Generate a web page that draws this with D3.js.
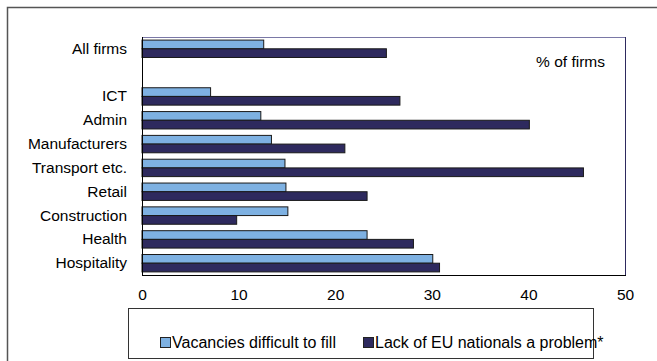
<!DOCTYPE html>
<html><head><meta charset="utf-8">
<script src="https://cdn.jsdelivr.net/npm/d3@7/dist/d3.min.js"></script>
<style>
body{margin:0;background:#fff;}
text{font-family:"Liberation Sans",Arial,sans-serif;fill:#000;}
</style></head>
<body><svg id="c" width="657" height="361"></svg>
<script>
const categories = ["All firms", "", "ICT", "Admin", "Manufacturers", "Transport etc.", "Retail", "Construction", "Health", "Hospitality"];
const vacancies = [12.6, null, 7.1, 12.3, 13.4, 14.8, 14.9, 15.1, 23.3, 30.1];
const lackEU =    [25.3, null, 26.7, 40.1, 21.0, 45.7, 23.3, 9.8, 28.1, 30.8];
const xTicks = [0, 10, 20, 30, 40, 50];
const seriesNames = ["Vacancies difficult to fill", "Lack of EU nationals a problem*"];
const colors = ["#7EB1E2", "#2E2A5E"];

const svg = d3.select("#c");
const L = 142, R = 625, T = 37, B = 275;

// outer frame
svg.append("path").attr("d", "M7.5,361 L7.5,7.5 L657,7.5").attr("fill","none").attr("stroke","#555").attr("stroke-width",1.5);

const x = d3.scaleLinear().domain([0, 50]).range([L, R]);
const y = d3.scaleBand().domain(categories.map((c,i)=>i)).range([T, B]).paddingInner(0.27).paddingOuter(0.13);
const sub = d3.scaleBand().domain([0,1]).range([0, y.bandwidth()]);

const rows = categories.map((c,i)=>({i, c, v:[vacancies[i], lackEU[i]]}));
const g = svg.append("g");
rows.forEach(r=>{
  r.v.forEach((val,k)=>{
    if (val == null) return;
    g.append("rect")
      .attr("x", x(0)).attr("y", y(r.i)+sub(k))
      .attr("width", x(val)-x(0)).attr("height", sub.bandwidth())
      .attr("fill", colors[k]).attr("stroke", "#1a1a1a").attr("stroke-width", 1);
  });
});

// plot border
svg.append("line").attr("x1",L).attr("x2",R).attr("y1",T+0.5).attr("y2",T+0.5).attr("stroke","#7a78a6");
svg.append("line").attr("x1",R+0.5).attr("x2",R+0.5).attr("y1",T).attr("y2",B).attr("stroke","#2E2A5E");
svg.append("line").attr("x1",L).attr("x2",R+1).attr("y1",B+0.5).attr("y2",B+0.5).attr("stroke","#000");
svg.append("line").attr("x1",L+0.5).attr("x2",L+0.5).attr("y1",T).attr("y2",B).attr("stroke","#000");

// x axis labels
const xa = svg.append("g").attr("transform",`translate(0,${B})`)
  .call(d3.axisBottom(x).tickValues(xTicks).tickSize(0).tickPadding(14));
xa.select(".domain").remove();
xa.selectAll("text").style("font-size","15.5px").style("font-family","Liberation Sans, Arial, sans-serif").attr("fill","#000");

// y axis labels
const ya = svg.append("g").attr("transform",`translate(${L},0)`)
  .call(d3.axisLeft(y).tickFormat(i=>categories[i]).tickSize(0).tickPadding(15));
ya.select(".domain").remove();
ya.selectAll("text").style("font-size","15.5px").style("font-family","Liberation Sans, Arial, sans-serif").attr("fill","#000");

svg.append("text").attr("x",605).attr("y",67).attr("text-anchor","end").style("font-size","15.5px").text("% of firms");

// legend
svg.append("rect").attr("x",128.5).attr("y",308.5).attr("width",465).attr("height",50).attr("fill","#fff").attr("stroke","#333");
const lx = [160, 363];
seriesNames.forEach((n,k)=>{
  svg.append("rect").attr("x",lx[k]+0.5).attr("y",337.5).attr("width",10).attr("height",10).attr("fill",colors[k]).attr("stroke","#222");
  svg.append("text").attr("x",lx[k]+12).attr("y",348).style("font-size","16px").text(n);
});
</script></body></html>
